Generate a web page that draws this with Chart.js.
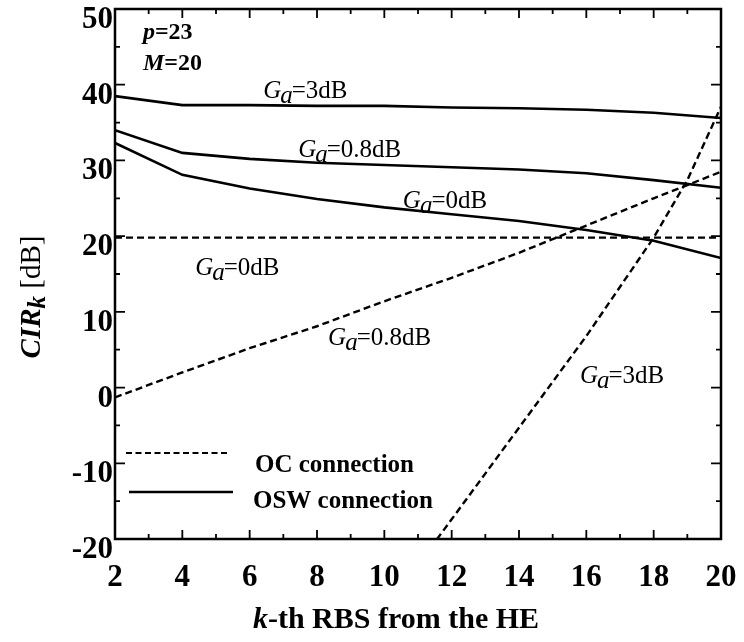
<!DOCTYPE html>
<html lang="en">
<head>
<meta charset="UTF-8">
<title>CIR of each RBS</title>
<script src="https://cdn.jsdelivr.net/npm/chart.js"></script>
<style>
  body { margin: 0; background: #fff; }
  #wrap { width: 744px; height: 642px; }
</style>
</head>
<body>
<div id="wrap"><canvas id="cirChart" width="744" height="642"></canvas></div>
<script>
// k-th RBS positions
const kSteps = [2, 4, 6, 8, 10, 12, 14, 16, 18, 20];

// OSW connection (solid)
const oswGa3  = [38.5, 37.3, 37.3, 37.2, 37.2, 37.0, 36.9, 36.7, 36.3, 35.6];
const oswGa08 = [34.0, 31.0, 30.2, 29.7, 29.4, 29.1, 28.8, 28.3, 27.4, 26.4];
const oswGa0  = [32.3, 28.1, 26.3, 24.9, 23.8, 22.9, 22.0, 20.8, 19.4, 17.1];

// OC connection (dashed)
const ocGa0  = [19.8, 19.8, 19.8, 19.8, 19.8, 19.8, 19.8, 19.8, 19.8, 19.8];
const ocGa08 = [-1.3, 2.0, 5.2, 8.1, 11.4, 14.5, 17.8, 21.4, 25.0, 28.5];
const ocGa3K = [10, 12, 14, 16, 18, 19, 20];
const ocGa3  = [-29.4, -17.4, -5.3, 6.8, 19.8, 27.4, 37.1];

const yTicks = [-20, -10, 0, 10, 20, 30, 40, 50];

const SERIF = '"Liberation Serif", "Times New Roman", serif';

function pts(xs, ys) {
  return xs.map((x, i) => ({ x: x, y: ys[i] }));
}

// G_a labels next to the curves, placed in data units
const curveLabels = [
  { k: 6.40,  v: 38.2, rest: '=3dB' },
  { k: 7.44,  v: 30.4, rest: '=0.8dB' },
  { k: 10.55, v: 23.7, rest: '=0dB' },
  { k: 4.38,  v: 14.9, rest: '=0dB' },
  { k: 8.33,  v: 5.6,  rest: '=0.8dB' },
  { k: 15.81, v: 0.6,  rest: '=3dB' }
];

function drawParts(ctx, x, y, parts) {
  parts.forEach(p => {
    ctx.font = p.font;
    x += (p.dx || 0);
    ctx.fillText(p.text, x, y + (p.dy || 0));
    x += ctx.measureText(p.text).width;
  });
  return x;
}

function partsWidth(ctx, parts) {
  let w = 0;
  parts.forEach(p => {
    ctx.font = p.font;
    w += ctx.measureText(p.text).width + (p.dx || 0);
  });
  return w;
}

function gaParts(rest) {
  return [
    { text: 'G', font: 'italic 25px ' + SERIF },
    { text: 'a', font: 'italic 25px ' + SERIF, dy: 5, dx: -1 },
    { text: rest, font: '25px ' + SERIF, dx: -1 }
  ];
}

const decor = {
  id: 'decor',
  afterDraw(chart) {
    const ctx = chart.ctx;
    const xs = chart.scales.x, ys = chart.scales.y;
    const a = chart.chartArea;
    ctx.save();
    ctx.strokeStyle = '#000';
    ctx.fillStyle = '#000';

    // frame
    ctx.lineWidth = 2.5;
    ctx.strokeRect(a.left, a.top, a.right - a.left, a.bottom - a.top);

    // inward ticks
    ctx.lineWidth = 1.8;
    ctx.beginPath();
    for (let k = 2; k <= 20; k++) {
      const px = xs.getPixelForValue(k);
      const len = k % 2 === 0 ? 9 : 5;
      ctx.moveTo(px, a.bottom); ctx.lineTo(px, a.bottom - len);
      ctx.moveTo(px, a.top);    ctx.lineTo(px, a.top + len);
    }
    for (let v = -20; v <= 50; v += 5) {
      const py = ys.getPixelForValue(v);
      const len = v % 10 === 0 ? 10 : 5;
      ctx.moveTo(a.left, py);  ctx.lineTo(a.left + len, py);
      ctx.moveTo(a.right, py); ctx.lineTo(a.right - len, py);
    }
    ctx.stroke();

    ctx.textBaseline = 'alphabetic';
    ctx.textAlign = 'left';

    // parameters
    const px0 = xs.getPixelForValue(2.83);
    drawParts(ctx, px0, ys.getPixelForValue(46.0), [
      { text: 'p', font: 'italic bold 24px ' + SERIF },
      { text: '=23', font: 'bold 24px ' + SERIF }
    ]);
    drawParts(ctx, px0, ys.getPixelForValue(42.0), [
      { text: 'M', font: 'italic bold 24px ' + SERIF },
      { text: '=20', font: 'bold 24px ' + SERIF }
    ]);

    // curve labels
    curveLabels.forEach(l => {
      drawParts(ctx, xs.getPixelForValue(l.k), ys.getPixelForValue(l.v), gaParts(l.rest));
    });

    // legend
    ctx.lineWidth = 2;
    ctx.setLineDash([6, 3.5]);
    ctx.beginPath(); ctx.moveTo(126, 453); ctx.lineTo(229, 453); ctx.stroke();
    ctx.setLineDash([]);
    ctx.lineWidth = 2.5;
    ctx.beginPath(); ctx.moveTo(129, 492); ctx.lineTo(233, 492); ctx.stroke();
    ctx.font = 'bold 25px ' + SERIF;
    ctx.fillText('OC connection', 255, 472);
    ctx.fillText('OSW connection', 253, 508);

    // x axis title
    const xt = [
      { text: 'k', font: 'italic bold 30px ' + SERIF },
      { text: '-th RBS from the HE', font: 'bold 30px ' + SERIF }
    ];
    drawParts(ctx, 396 - partsWidth(ctx, xt) / 2, 628, xt);

    // y axis title
    const yt = [
      { text: 'CIR', font: 'italic bold 29px ' + SERIF },
      { text: 'k', font: 'italic bold 25px ' + SERIF, dy: 5 },
      { text: ' [dB]', font: '29px ' + SERIF }
    ];
    ctx.translate(40, 297);
    ctx.rotate(-Math.PI / 2);
    drawParts(ctx, -partsWidth(ctx, yt) / 2, 0, yt);

    ctx.restore();
  }
};

function lineSet(xs, ys, dashed, extra) {
  return Object.assign({
    data: pts(xs, ys),
    borderColor: '#000',
    borderWidth: dashed ? 2.4 : 2.6,
    borderDash: dashed ? [7, 4] : [],
    pointRadius: 0,
    tension: 0,
    fill: false
  }, extra || {});
}

new Chart(document.getElementById('cirChart'), {
  type: 'line',
  data: {
    datasets: [
      lineSet(kSteps, oswGa3, false),
      lineSet(kSteps, oswGa08, false),
      lineSet(kSteps, oswGa0, false),
      lineSet(kSteps, ocGa0, true),
      lineSet(kSteps, ocGa08, true),
      lineSet(ocGa3K, ocGa3, true, { clip: 0 })
    ]
  },
  options: {
    responsive: false,
    animation: false,
    devicePixelRatio: 1,
    layout: { padding: { left: 0, top: 9, right: 23, bottom: 0 } },
    plugins: { legend: { display: false }, tooltip: { enabled: false } },
    scales: {
      x: {
        type: 'linear',
        min: 2, max: 20,
        grid: { display: false, drawTicks: false },
        border: { display: false },
        ticks: {
          stepSize: 2,
          autoSkip: false,
          maxRotation: 0,
          padding: 20,
          color: '#000',
          font: { family: SERIF, size: 31, weight: 'bold' }
        },
        afterFit: s => {
          s.height = 103;
          s.paddingLeft = 0;
          s.paddingRight = 0;
        }
      },
      y: {
        min: -20, max: 50,
        grid: { display: false, drawTicks: false },
        border: { display: false },
        afterBuildTicks: s => { s.ticks = yTicks.map(v => ({ value: v })); },
        ticks: {
          autoSkip: false,
          padding: 2,
          labelOffset: 11,
          color: '#000',
          font: { family: SERIF, size: 31, weight: 'bold' }
        },
        afterFit: s => {
          s.width = 115;
          s.paddingTop = 0;
          s.paddingBottom = 0;
        }
      }
    }
  },
  plugins: [decor]
});
</script>
</body>
</html>
